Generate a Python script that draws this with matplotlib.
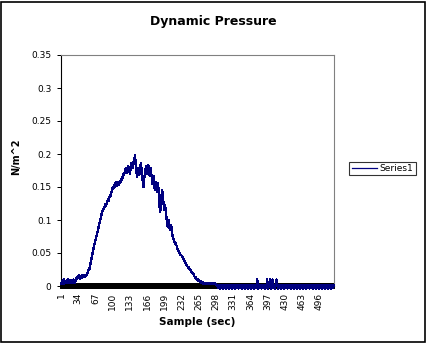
import numpy as np
import matplotlib
matplotlib.use("Agg")
import matplotlib.pyplot as plt
from matplotlib.patches import Rectangle

# dynamic pressure per sample, in thousandths of N/m^2
pressure_milli = [
    5, 3, 8, 4, 6, 10, 3, 5, 7, 4,
    6, 9, 4, 5, 10, 6, 4, 8, 5, 6,
    9, 5, 7, 4, 10, 6, 8, 5, 9, 7,
    13, 10, 15, 12, 16, 13, 11, 15, 14, 12,
    16, 13, 15, 17, 14, 16, 13, 17, 15, 16,
    17, 20, 22, 25, 24, 28, 32, 36, 40, 44,
    48, 52, 55, 60, 63, 66, 70, 72, 76, 79,
    82, 85, 89, 94, 96, 100, 103, 106, 110, 113,
    113, 115, 118, 118, 121, 124, 122, 124, 127, 129,
    131, 129, 133, 135, 138, 136, 140, 143, 147, 150,
    147, 150, 153, 150, 155, 157, 154, 152, 156, 158,
    155, 153, 158, 156, 160, 157, 162, 165, 163, 167,
    170, 168, 173, 176, 179, 177, 172, 175, 178, 182,
    178, 174, 170, 176, 181, 186, 183, 179, 185, 188,
    192, 195, 198, 184, 176, 170, 165, 172, 178, 174,
    168, 176, 181, 186, 180, 172, 163, 155, 150, 158,
    166, 172, 178, 182, 176, 170, 178, 183, 180, 173,
    166, 172, 178, 170, 162, 155, 160, 167, 158, 150,
    145, 152, 158, 150, 143, 148, 156, 145, 130, 118,
    112, 120, 132, 140, 145, 138, 128, 120, 115, 122,
    118, 110, 104, 96, 90, 94, 100, 92, 88, 85,
    90, 92, 88, 80, 74, 72, 70, 68, 66, 64,
    65, 62, 60, 57, 55, 53, 52, 50, 48, 47,
    47, 46, 45, 43, 42, 40, 39, 37, 36, 34,
    33, 31, 30, 29, 27, 28, 26, 24, 25, 22,
    21, 20, 19, 20, 17, 16, 14, 12, 13, 11,
    10, 9, 11, 8, 9, 7, 8, 6, 7, 5,
    6, 4, 6, 3, 5, 4, 3, 4, 5, 3,
    4, 3, 4, 4, 3, 4, 3, 4, 4, 3,
    4, 3, 3, 4, 3, 3, 4, 2, 1, 0,
    1, -3, 0, 1, -4, 1, 0, -3, 1, 1, -4, 0, 1, -3, 1, 0,
    -4, 1, 1, -3, 0, 1, -4, 1, 0, -3, 1, 1, -4, 0, 1, -3,
    1, 0, -4, 1, 1, -3, 0, 1, -4, 1, 0, -3, 1, 1, -4, 0,
    1, -3, 1, 0, -4, 1, 1, -3, 0, 1, -4, 1, 0, -3, 1, 1,
    -4, 0, 1, -3, 1, 0, -4, 1, 1, -3, 0, 1, 10, 1, -4, 1,
    0, -3, 1, 1, -4, 0, 1, -3, 1, 0, -4, 1, 1, -3, 0, 10,
    1, -4, 1, 0, 10, 1, 1, -4, 0, 10, 1, -3, 1, 0, -4, 1,
    1, 10, 0, 1, -4, 1, 0, -3, 1, 1, -4, 0, 1, -3, 1, 0,
    -4, 1, 1, -3, 0, 1, -4, 1, 0, -3, 1, 1, -4, 0, 1, -3,
    1, 0, -4, 1, 1, -3, 0, 1, -4, 1, 0, -3, 1, 1, -4, 0,
    1, -3, 1, 0, -4, 1, 1, -3, 0, 1, -4, 1, 0, -3, 1, 1,
    -4, 0, 1, -3, 1, 0, -4, 1, 1, -3, 0, 1, -4, 1, 0, -3,
    1, 1, -4, 0, 1, -3, 1, 0, -4, 1, 1, -3, 0, 1, -4, 1,
    0, -3, 1, 1, -4, 0, 1, -3, 1, 0, -4, 1, 1, -3, 0, 1,
]
pressure = np.array(pressure_milli) / 1000.0
samples = np.arange(1, len(pressure) + 1)

x_labels = [1, 34, 67, 100, 133, 166, 199, 232, 265, 298, 331, 364, 397, 430, 463, 496]
y_ticks = [0, 0.05, 0.1, 0.15, 0.2, 0.25, 0.3, 0.35]
y_labels = ["0", "0.05", "0.1", "0.15", "0.2", "0.25", "0.3", "0.35"]

W, H = 426, 343
fig = plt.figure(figsize=(W / 100, H / 100), dpi=100)
fig.patch.set_facecolor("white")
ax = fig.add_axes([61 / W, 1 - 286 / H, 273 / W, 231 / H])

ax.plot(samples, pressure, color="#000080", lw=0.9, antialiased=False,
        clip_on=False, zorder=3, label="Series1")

ax.set_xlim(1, len(pressure))
ax.set_ylim(0, 0.35)

# one tick per sample, labels every 33 samples
ax.set_xticks(x_labels)
ax.set_xticklabels([str(v) for v in x_labels], rotation=90, fontsize=6.5)
ax.set_xticks(samples, minor=True)
ax.tick_params(axis="x", which="both", direction="inout", length=4.6,
               width=1.4, color="black", pad=2.5)

ax.set_yticks(y_ticks)
ax.set_yticklabels(y_labels, fontsize=6.5)
ax.tick_params(axis="y", direction="out", length=3, width=0.72, pad=4)

for side in ("top", "right"):
    ax.spines[side].set_color("#808080")
ax.spines["left"].set_color("black")
ax.spines["bottom"].set_color("black")
for sp in ax.spines.values():
    sp.set_linewidth(0.8)

ax.set_ylabel("N/m^2", fontsize=7, fontweight="bold")
ax.yaxis.set_label_coords(-0.145, 0.56)

fig.text(197.5 / W, 1 - 322 / H, "Sample (sec)", ha="center", va="center",
         fontsize=7.5, fontweight="bold")
fig.text(213.5 / W, 1 - 22 / H, "Dynamic Pressure", ha="center", va="center",
         fontsize=9, fontweight="bold")

leg = fig.legend(loc="center", bbox_to_anchor=(382.5 / W, 1 - 168.5 / H),
                 fontsize=6.5, frameon=True, fancybox=False, handlelength=2.8,
                 handletextpad=0.3, borderpad=0.25, borderaxespad=0)
leg.get_frame().set_edgecolor("black")
leg.get_frame().set_linewidth(0.8)

# outer border round the whole chart
fig.patches.append(Rectangle((0.5 / W, 1.5 / H), (W - 1.5) / W, (H - 3) / H,
                             transform=fig.transFigure, fill=False,
                             edgecolor="black", linewidth=1.2))

fig.savefig("out.png", dpi=100)
